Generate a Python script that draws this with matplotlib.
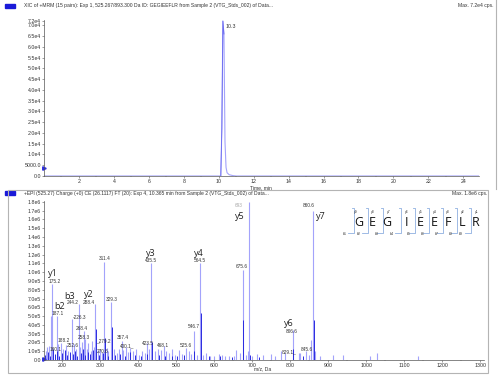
import matplotlib.pyplot as plt
from matplotlib.lines import Line2D
from matplotlib.patches import Rectangle
from matplotlib.ticker import MultipleLocator

# XIC trace (time in min, intensity in cps)
xic_time = [0.0, 10.12, 10.18, 10.24, 10.30, 10.36, 10.42, 10.48, 10.6, 10.8, 11.0, 24.9]
xic_int = [0, 0, 2.2e4, 7.2e4, 6.6e4, 1.6e4, 4000, 1500, 600, 200, 0, 0]
xic_yticks = [0, 5000, 1e4, 1.5e4, 2e4, 2.5e4, 3e4, 3.5e4, 4e4, 4.5e4, 5e4, 5.5e4, 6e4, 6.5e4, 7e4, 7.2e4]
xic_ylabels = ["0.0", "5000.0", "1.0e4", "1.5e4", "2.0e4", "2.5e4", "3.0e4", "3.5e4", "4.0e4",
               "4.5e4", "5.0e4", "5.5e4", "6.0e4", "6.5e4", "7.0e4", "7.2e4"]

# MS/MS spectrum, light lines (m/z, intensity in 1e5 cps)
spec_mz = [158, 160, 166, 172, 175.2, 187.1, 190, 198, 204, 212, 217, 226.3, 231, 236, 244.2, 247,
           252, 258, 262, 266, 270, 276, 280, 284, 288.4, 296, 300, 305, 311.4, 318, 322, 329.3,
           338, 344, 350, 357.4, 362, 368, 375, 380, 386, 395, 402, 410, 418, 423.5, 428, 435.5,
           445, 452, 460, 468, 475, 482, 490, 498, 508, 515, 525.6, 533, 540, 546.7, 555, 564.5,
           572, 580, 590, 600, 612, 620, 628, 640, 652, 657, 668, 675.6, 683, 690, 693, 700, 712,
           730, 749, 760, 775, 788, 806.6, 823, 827, 843, 850, 855, 860.6, 866, 880, 912, 939,
           1011, 1028, 1137]
spec_int = [1.0, 1.5, 1.6, 5.0, 8.7, 5.0, 1.8, 1.9, 1.2, 1.7, 1.0, 4.7, 1.8, 1.3, 6.4, 1.5,
            2.0, 3.3, 2.4, 1.3, 1.9, 1.0, 2.2, 1.5, 6.4, 1.1, 1.3, 0.9, 11.2, 1.4, 1.0, 6.6,
            1.2, 0.8, 1.3, 2.2, 1.1, 1.5, 0.9, 1.4, 1.0, 1.2, 0.6, 1.0, 0.8, 1.9, 1.2, 11.0,
            1.0, 1.3, 1.1, 1.6, 1.0, 0.8, 1.2, 0.6, 1.1, 0.7, 1.4, 1.0, 0.7, 3.3, 0.6, 11.0,
            0.6, 0.8, 0.5, 0.4, 0.7, 0.6, 0.4, 0.5, 0.4, 1.1, 0.8, 10.3, 0.6, 1.0, 18.0, 0.5, 0.7,
            0.6, 0.7, 0.5, 1.0, 0.8, 3.4, 0.8, 0.8, 1.0, 0.6, 2.3, 17.0, 1.0, 0.5, 0.6, 0.6,
            0.5, 0.8, 0.4]

# darker short lines near the baseline
dark_mz = [156, 163, 170, 176, 181, 186, 193, 201, 208, 214, 221, 229, 235, 241, 249, 255,
           261, 268, 274, 282, 290, 298, 307, 313, 320, 331, 340, 353, 366, 378, 392, 407,
           424, 437, 456, 471, 489, 503, 521, 548, 566, 588, 615, 647, 677, 694, 718, 808,
           834, 862]
dark_int = [0.6, 0.9, 0.5, 1.2, 0.7, 1.0, 0.5, 0.8, 1.1, 0.6, 0.9, 0.7, 1.0, 0.5, 0.8, 1.2,
            0.6, 0.9, 0.7, 1.1, 3.5, 0.6, 0.8, 2.5, 0.5, 3.8, 0.6, 0.7, 0.5, 0.9, 0.6, 0.5,
            0.7, 2.0, 0.6, 0.5, 0.4, 0.5, 0.6, 1.0, 5.3, 0.4, 0.5, 0.3, 4.5, 0.6, 0.3, 1.2,
            0.4, 4.5]

# peak labels (text, m/z, height in 1e5)
lab_text = ["175.2", "187.1", "188.2", "160.1", "244.2", "288.4", "-226.3", "268.4", "258.3",
            "252.6", "_279.2", "270.6", "311.4", "329.3", "357.4", "400.1_", "423.5", "468.1",
            "525.6", "546.7", "435.5", "564.5", "675.6", "693", "860.6", "806.6", "829.1_", "845.6"]
lab_mz = [181, 190, 204, 184, 228, 272, 247, 252, 258, 229, 310, 307, 313, 330, 360, 371, 425,
          467, 526, 548, 435, 564, 674, 666, 849, 805, 797, 844]
lab_y = [8.9, 5.3, 2.2, 1.25, 6.6, 6.6, 4.85, 3.6, 2.6, 1.6, 2.2, 0.95, 11.5, 6.9, 2.6, 1.6,
         1.9, 1.6, 1.6, 3.8, 11.3, 11.3, 10.6, 17.6, 17.6, 3.2, 0.9, 1.25]

# fragment ion labels
ion_text = ["y1", "b2", "b3", "y2", "y3", "y4", "y5", "y6", "y7"]
ion_mz = [177, 195, 221, 271, 435, 561, 668, 797, 880]
ion_y = [9.85, 6.1, 7.25, 7.5, 12.1, 12.1, 16.3, 4.2, 16.3]

sequence = ["G", "E", "G", "I", "E", "E", "F", "L", "R"]

spec_yticks = [i * 1e5 for i in range(19)]
spec_ylabels = ["0.0"] + ["%.1fe5" % i for i in range(1, 10)] + ["%.1fe6" % (i / 10) for i in range(10, 19)]

W, H = 500, 379


def fx(x):
    return x / W


def fy(y):
    return 1 - y / H


light = "#a3a3fb"
dark = "#2a2ae0"
txtc = "#333333"

fig = plt.figure(figsize=(5, 3.79), dpi=100)
plt.rcParams['font.family'] = ['Liberation Sans', 'DejaVu Sans']

# ---------- top panel: XIC ----------
ax1 = fig.add_axes([fx(44), fy(176), fx(435), 156 / H])
ax1.plot(xic_time, xic_int, color=light, lw=0.8)
ax1.plot(xic_time[1:5], xic_int[1:5], color="#6a6af0", lw=0.6)
ax1.plot([0], [3500], marker=">", ms=2.5, color="#2a2ae0", clip_on=False)
ax1.set_xlim(0, 24.9)
ax1.set_ylim(0, 7.25e4)
ax1.set_xticks(range(2, 25, 2))
ax1.xaxis.set_minor_locator(MultipleLocator(1))
ax1.set_yticks(xic_yticks)
ax1.set_yticklabels(xic_ylabels)
ax1.text(10.38, 6.95e4, "10.3", fontsize=3.8, color=txtc, va="center")
fig.text(fx(261), fy(187.5), "Time, min", fontsize=3.6, color=txtc, ha="center", va="center")

# ---------- bottom panel: spectrum ----------
ax2 = fig.add_axes([fx(44), fy(360), fx(440), 159 / H])
ax2.vlines(spec_mz, 0, [v * 1e5 for v in spec_int], color=light, lw=0.8)
ax2.vlines(dark_mz, 0, [v * 1e5 for v in dark_int], color=dark, lw=0.7)
ax2.plot([153], [0.1e5], marker=">", ms=2.5, color=dark, clip_on=False)
ax2.set_xlim(153, 1310)
ax2.set_ylim(0, 1.81e6)
ax2.set_xticks(range(200, 1301, 100))
ax2.xaxis.set_minor_locator(MultipleLocator(50))
ax2.set_yticks(spec_yticks)
ax2.set_yticklabels(spec_ylabels)
for t, m, y in zip(lab_text, lab_mz, lab_y):
    c = "#aaaaaa" if t == "693" else txtc
    ax2.text(m, y * 1e5, t, fontsize=3.4, color=c, ha="center", va="center")
for t, m, y in zip(ion_text, ion_mz, ion_y):
    ax2.text(m, y * 1e5, t, fontsize=6.5, color="#222222", ha="center", va="center",
             family=["Open Sans", "DejaVu Sans"])
fig.text(fx(263), fy(369), "m/z, Da", fontsize=3.6, color=txtc, ha="center", va="center")

for ax in (ax1, ax2):
    for s in ("top", "right"):
        ax.spines[s].set_visible(False)
    for s in ("left", "bottom"):
        ax.spines[s].set_linewidth(0.5)
        ax.spines[s].set_color("#555555")
    ax.tick_params(labelsize=3.8, length=1.5, width=0.4, pad=0.8, colors="#555555", labelcolor=txtc)
    ax.tick_params(which="minor", length=1, width=0.3, colors="#555555")

# ---------- headers ----------
fig.patches.append(Rectangle((fx(5), fy(8)), fx(10), 4 / H, color="#1a1ad8", transform=fig.transFigure))
fig.text(fx(24), fy(6), "XIC of +MRM (15 pairs): Exp 1, 525.267/893.300 Da ID: GEGIEEFLR from Sample 2 "
         "(VTG_Stds_002) of Data...", fontsize=3.6, color=txtc, va="center")
fig.text(fx(493), fy(6), "Max. 7.2e4 cps.", fontsize=3.6, color=txtc, va="center", ha="right")
fig.patches.append(Rectangle((fx(5), fy(195)), fx(10), 4 / H, color="#1a1ad8", transform=fig.transFigure))
fig.text(fx(24), fy(193), "+EPI (525.27) Charge (+0) CE (26.1117) FT (20): Exp 4, 10.365 min from Sample 2 "
         "(VTG_Stds_002) of Data...", fontsize=3.6, color=txtc, va="center")
fig.text(fx(487), fy(193), "Max. 1.8e6 cps.", fontsize=3.6, color=txtc, va="center", ha="right")

# frames
fig.patches.append(Rectangle((fx(8), fy(373)), fx(480), 183 / H, fill=False, ec="#b4b4b4", lw=0.8,
                             transform=fig.transFigure))
fig.lines.append(Line2D([fx(496), fx(496)], [fy(0), fy(189)], color="#b4b4b4", lw=0.8,
                        transform=fig.transFigure))

# ---------- peptide sequence graphic ----------
letter_x = [359, 372.7, 387, 406, 420, 434, 447.7, 461.7, 475.7]
sep_x = [354, 368.3, 383.3, 400.7, 415, 429, 442.7, 456.7, 470.7]
ylab_x = [356, 372.7, 389, 407, 420.7, 434.7, 448, 463, 476.7]
blab_x = [345, 359, 376.7, 391.7, 409, 423, 436.7, 450.7, 460.7]
bc = "#8fb0e0"
for i, ch in enumerate(sequence):
    fig.text(fx(letter_x[i]), fy(222), ch, fontsize=9, ha="center", va="center", color="#111111",
             family=["Open Sans", "DejaVu Sans"])
    x = sep_x[i]
    fig.lines.append(Line2D([fx(x - 2), fx(x), fx(x), fx(x - 6)], [fy(208), fy(208), fy(233), fy(233)],
                            color=bc, lw=0.6, transform=fig.transFigure))
    fig.text(fx(ylab_x[i]), fy(211.5), "y%d" % (9 - i), fontsize=2.5, ha="center", va="center", color=txtc)
    fig.text(fx(blab_x[i]), fy(234), "b%d" % (i + 1), fontsize=2.5, ha="center", va="center", color=txtc)

fig.savefig("out.png", dpi=100)
